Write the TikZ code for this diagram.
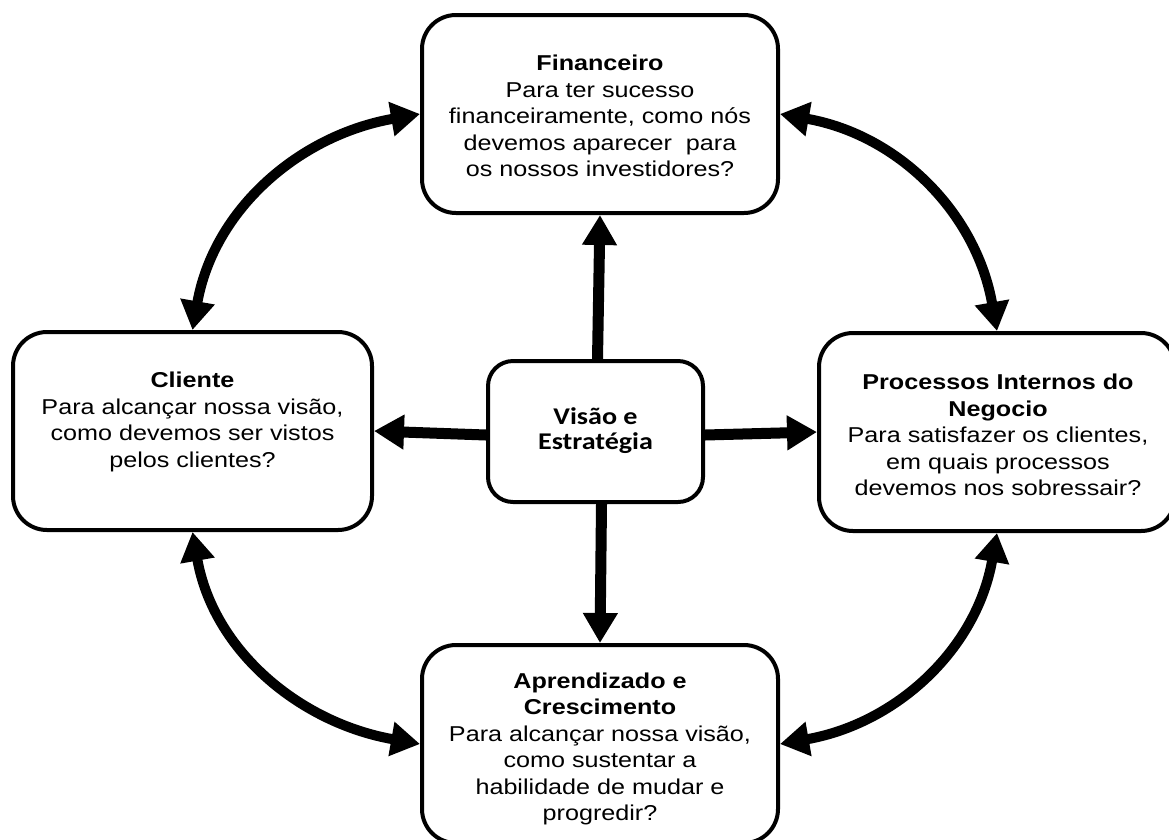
\documentclass[tikz,border=0pt]{standalone}
\usepackage{fontspec}
\setmainfont{Liberation Sans}[FakeStretch=1.17]
\newfontfamily\centrefont{Carlito}[FakeStretch=1.17]
\usetikzlibrary{arrows.meta}

\begin{document}
\begin{tikzpicture}[x=1pt,y=-1pt,
  panel/.style={draw, line width=4pt, rounded corners=34pt,
    minimum width=356pt, minimum height=198pt, inner sep=0pt},
  hub/.style={draw, line width=4pt, rounded corners=25pt,
    minimum width=215pt, minimum height=141pt, inner sep=0pt},
  txt/.style={align=center, inner sep=0pt,
    font=\fontsize{21.5}{26.5}\selectfont},
  hubtxt/.style={align=center, inner sep=0pt,
    font=\centrefont\bfseries\fontsize{24}{25}\selectfont},
  spoke/.style={line width=11pt, -{Triangle[length=30pt,width=33pt]}},
  loop/.style={line width=10pt,
    {Triangle[length=29pt,width=33pt]}-{Triangle[length=29pt,width=33pt]}}
]
\useasboundingbox (0,0) rectangle (1169,839);
\clip (0,0) rectangle (1169,839);

% perspective boxes
\node[panel] (fin) at (600,114) {};
\node[panel, minimum width=359pt] (cli) at (192.5,431) {};
\node[panel] (pro) at (997,432) {};
\node[panel] (apr) at (600,744) {};
\node[hub] (mid) at (595.5,431.5) {};

% box texts
\node[txt] (fintxt) at (600,116) {\textbf{Financeiro}\\Para ter sucesso\\financeiramente, como nós\\devemos aparecer\ \ para\\os nossos investidores?};
\node[txt] (clitxt) at (192.5,422) {\textbf{Cliente}\\Para alcançar nossa visão,\\como devemos ser vistos\\pelos clientes?};
\node[txt] (protxt) at (998,435) {\textbf{Processos Internos do}\\\textbf{Negocio}\\Para satisfazer os clientes,\\em quais processos\\devemos nos sobressair?};
\node[txt] (aprtxt) at (600,749) {\textbf{Aprendizado e}\\\textbf{Crescimento}\\Para alcançar nossa visão,\\como sustentar a\\habilidade de mudar e\\progredir?};
\node[hubtxt] (midtxt) at (595.5,431) {Visão e\\Estratégia};

% arrows from the centre to each perspective
\draw[spoke] ([xshift=2pt]mid.north) -- (fin.south);
\draw[spoke] ([xshift=6pt]mid.south) -- (apr.north);
\draw[spoke] ([yshift=-3.5pt]mid.west) -- (cli.east);
\draw[spoke] ([yshift=-3.5pt]mid.east) -- (pro.west);

% two-way links around the cycle
\draw[loop] (cli.north) to[out=80,in=190] (fin.west);
\draw[loop] (fin.east) to[out=-10,in=100] (pro.north);
\draw[loop] (pro.south) to[out=-100,in=10] (apr.east);
\draw[loop] (cli.south) to[out=-80,in=170] (apr.west);
\end{tikzpicture}
\end{document}
